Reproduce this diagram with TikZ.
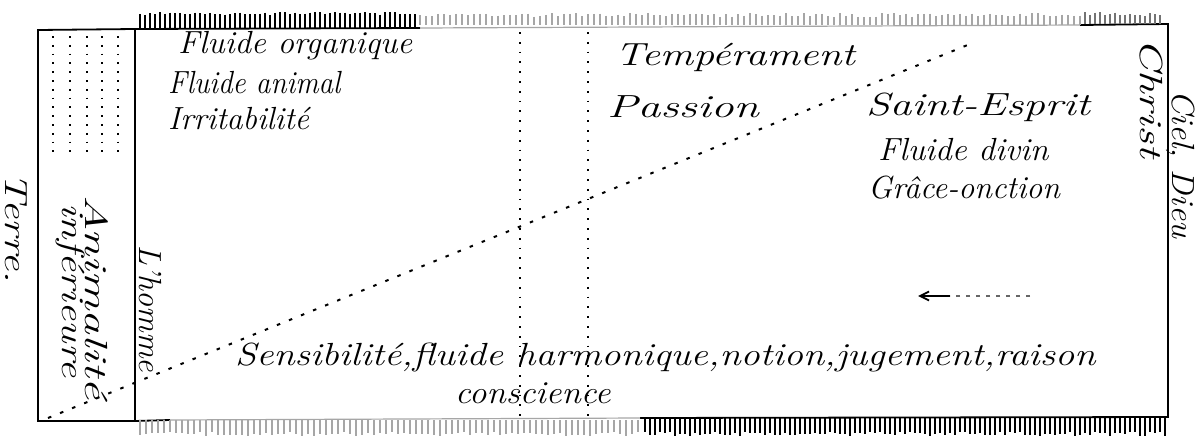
\documentclass[tikz,border=0pt]{standalone}
\usetikzlibrary{arrows.meta}
\newcommand\hsc[2]{\scalebox{#1}[1]{#2}}
\begin{document}
\begin{tikzpicture}[x=1pt,y=-1pt,
  lbl/.style={font=\fontsize{32}{34}\selectfont\itshape, inner sep=0pt, anchor=west},
  vlbl/.style={font=\fontsize{32}{34}\selectfont\itshape, inner sep=0pt, rotate=-90, anchor=west},
  frame/.style={line width=1.8pt},
  dotv/.style={line width=2.2pt, dash pattern=on 1.8pt off 8pt},
  dotsmall/.style={line width=1.8pt, dash pattern=on 1.8pt off 7pt},
  diag/.style={line width=2pt, dash pattern=on 3.5pt off 9.5pt},
  tick/.style={line width=1.4pt},
  faint/.style={line width=1.2pt, black!35}]
\useasboundingbox (0,0) rectangle (1199,442);
\fill[white] (0,0) rectangle (1199,442);

% corners
\coordinate (lbTL) at (38,30);
\coordinate (lbBL) at (38,421);
\coordinate (mTL) at (135,29);
\coordinate (mBL) at (135,421);
\coordinate (mTR) at (1168,24);
\coordinate (mBR) at (1168,417);

% left box
\draw[frame] (mTL) -- (lbTL) -- (lbBL) -- (mBL);
\draw[frame] (mTL) -- (mBL);
% main frame
\draw[frame] (mTL) -- (420,28);
\draw[faint] (420,28) -- (1080,25);
\draw[frame] (1080,25) -- (mTR) -- (mBR) -- (640,418);
\draw[faint] (640,418) -- (170,420);
\draw[frame] (170,420) -- (mBL);

% hatching top
\pgfmathsetseed{11}
\foreach \x in {140,145,...,415}{
  \pgfmathsetmacro\h{12+3*rnd}
  \draw[tick] (\x,\h) -- (\x,28);}
\foreach \x in {420,426,...,1080}{
  \pgfmathsetmacro\h{13+4*rnd}
  \draw[faint] (\x,\h) -- (\x,25);}
\foreach \x in {1085,1090,...,1160}{
  \pgfmathsetmacro\h{12+4*rnd}
  \draw[faint, black!55] (\x,\h) -- (\x,24);}
% hatching bottom
\foreach \x in {140,146,...,640}{
  \pgfmathsetmacro\h{432+4*rnd}
  \draw[faint] (\x,420) -- (\x,\h);}
\foreach \x in {645,650,...,1165}{
  \pgfmathsetmacro\h{432+4*rnd}
  \draw[tick] (\x,418) -- (\x,\h);}

% dotted columns in left box
\foreach \x in {53,70,87,102,118}
  \draw[dotsmall] (\x,36) -- (\x,156);

% dotted verticals
\coordinate (v1t) at (520,32);
\coordinate (v1b) at (520,418);
\coordinate (v2t) at (588,32);
\coordinate (v2b) at (588,418);
\draw[dotv] (v1t) -- (v1b);
\draw[dotv] (v2t) -- (v2b);

% diagonal
\coordinate (d0) at (48,418);
\coordinate (d1) at (975,42);
\draw[diag] (d0) -- (d1);

% texts
\node[lbl] (fo) at (178,46) {\hsc{1.03}{Fluide organique}};
\node[lbl] (fa) at (168,83) {\hsc{0.91}{Fluide animal}};
\node[lbl] (ir) at (168,119) {\hsc{1.0}{Irritabilité}};
\node[lbl] (te) at (615,57) {\hsc{1.30}{Tempérament}};
\node[lbl] (pa) at (607,107) {\hsc{1.43}{Passion}};
\node[lbl] (se) at (866,107) {\hsc{1.35}{Saint-Esprit}};
\node[lbl] (fd) at (878,150) {\hsc{1.04}{Fluide divin}};
\node[lbl] (gr) at (868,188) {\hsc{1.0}{Grâce-onction}};
\node[lbl] (sen) at (235,357) {\hsc{1.2}{Sensibilité,fluide harmonique,notion,jugement,raison}};
\node[lbl] (co) at (455,393) {\hsc{1.09}{conscience}};

\node[vlbl] (lh) at (150,245) {\hsc{1.0}{L'homme}};
\node[vlbl] (an) at (97,195) {\hsc{1.54}{Animalité}};
\node[vlbl] (inf) at (70,203) {\hsc{1.33}{inférieure}};
\node[vlbl] (ter) at (16,172) {\hsc{1.34}{Terre.}};
\node[vlbl] (chr) at (1151,38) {\hsc{1.42}{Christ}};
\node[vlbl] (cd) at (1181,90) {\hsc{1.06}{Ciel, Dieu}};

% arrow
\coordinate (a0) at (918,296);
\coordinate (a1) at (950,296);
\coordinate (a2) at (1030,296);
\draw[line width=1.8pt, -{Straight Barb[length=9pt,width=9pt]}] (a1) -- (a0);
\draw[line width=1.5pt, dash pattern=on 4pt off 6pt, black!60] (a2) -- (a1);
\end{tikzpicture}
\end{document}
